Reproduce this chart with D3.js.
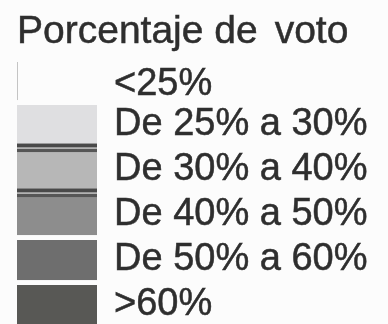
<!DOCTYPE html>
<html>
<head>
<meta charset="utf-8">
<script src="https://cdn.jsdelivr.net/npm/d3@7"></script>
<style>
  html, body { margin: 0; padding: 0; background: #fcfcfc; }
  svg { display: block; }
</style>
</head>
<body>
<script>
// Vote-share classes for the map legend
const legendTitle = ["Porcentaje de", "voto"];
const classLabels = ["<25%", "De 25% a 30%", "De 30% a 40%", "De 40% a 50%", "De 50% a 60%", ">60%"];
const classIds = ["c0", "c1", "c2", "c3", "c4", "c5"];

const width = 388, height = 324;

const svg = d3.select("body").append("svg")
  .attr("width", width)
  .attr("height", height);

// soft print look
const defs = svg.append("defs");
defs.append("filter").attr("id", "soft")
  .attr("x", "-5%").attr("y", "-5%").attr("width", "110%").attr("height", "110%")
  .append("feGaussianBlur").attr("stdDeviation", 0.6);

const g = svg.append("g").attr("filter", "url(#soft)");

const fill = d3.scaleOrdinal()
  .domain(classIds)
  .range(["#fcfcfc", "#dfdfe1", "#b7b7b7", "#8d8d8d", "#6e6e6e", "#585855"]);

// 45px per class, swatches 40px tall
const pad = 0.11;
const rows = d3.scaleBand()
  .domain(classIds)
  .range([60, 60 + 45 * (classIds.length - pad)])
  .paddingInner(pad);

const font = "'Liberation Sans', Arial, Helvetica, sans-serif";
const ink = "#2f2f2f";

// title
const title = g.append("text")
  .attr("x", 17)
  .attr("y", 43)
  .attr("font-family", font)
  .attr("font-size", 39)
  .attr("fill", ink)
  .attr("stroke", ink)
  .attr("stroke-width", 0.5);
title.append("tspan").text(legendTitle[0]);
title.append("tspan").attr("dx", 17).text(legendTitle[1]);

const swX = 17, swW = 80;

// swatches
g.selectAll("rect.sw")
  .data(classIds.slice(1))
  .join("rect")
  .attr("class", "sw")
  .attr("x", swX)
  .attr("y", d => rows(d))
  .attr("width", swW)
  .attr("height", rows.bandwidth())
  .attr("fill", d => fill(d));

// faint edge of the empty first class
g.append("line")
  .attr("x1", swX + 0.5).attr("x2", swX + 0.5)
  .attr("y1", rows("c0") + 2).attr("y2", rows("c0") + rows.bandwidth())
  .attr("stroke", "#c4c4c4")
  .attr("stroke-width", 1);

// double rules between the lighter classes
["c1", "c2"].forEach(id => {
  const y0 = rows(id) + rows.bandwidth();
  g.append("rect").attr("x", swX).attr("y", y0 - 1.5).attr("width", swW).attr("height", 4)
    .attr("fill", "#4a4a4a");
  g.append("rect").attr("x", swX).attr("y", y0 + 3.5).attr("width", swW).attr("height", 3.5)
    .attr("fill", "#575757");
});

// class labels
g.selectAll("text.lab")
  .data(classIds)
  .join("text")
  .attr("class", "lab")
  .attr("x", 114)
  .attr("y", (d, i) => rows(d) + (i === 0 ? 35 : 30))
  .attr("font-family", font)
  .attr("font-size", 38)
  .attr("fill", ink)
  .attr("stroke", ink)
  .attr("stroke-width", 0.5)
  .text((d, i) => classLabels[i]);
</script>
</body>
</html>
